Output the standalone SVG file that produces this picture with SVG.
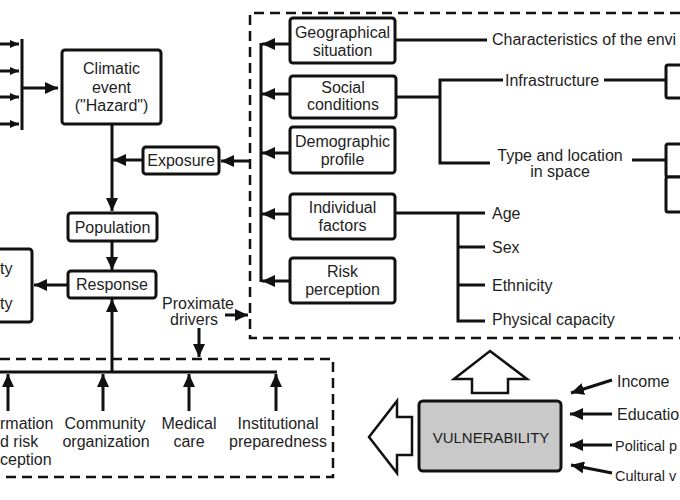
<svg xmlns="http://www.w3.org/2000/svg" width="680" height="500" viewBox="0 0 680 500">
<style>
  text { font-family: "Liberation Sans", Arial, sans-serif; font-size: 16px; fill: #1e1e1e; }
  .c { text-anchor: middle; }
  .box { fill: #ffffff; stroke: #111; stroke-width: 3; }
  .ln { fill: none; stroke: #111; stroke-width: 3; }
  .dash { fill: none; stroke: #111; stroke-width: 2.5; stroke-dasharray: 10 6; }
  .hollow { fill: #ffffff; stroke: #111; stroke-width: 2.5; stroke-linejoin: miter; }
  .edge { font-size: 14.5px; }
</style>
<defs>
  <marker id="ah" markerUnits="userSpaceOnUse" markerWidth="14" markerHeight="12" refX="13" refY="6" orient="auto">
    <path d="M0,0 L13,6 L0,12 z" fill="#111"/>
  </marker>
  <marker id="ahs" markerUnits="userSpaceOnUse" markerWidth="9" markerHeight="8" refX="9" refY="4" orient="auto">
    <path d="M0,0 L9,4 L0,8 z" fill="#111"/>
  </marker>
</defs>
<rect x="0" y="0" width="680" height="500" fill="#ffffff"/>

<g id="frames">
  <path class="dash" d="M680,13 H250 V338 H680"/>
  <path class="dash" d="M0,359 H333 V477 H0"/>
</g>

<g id="connectors">
  <line class="ln" x1="0" y1="44" x2="19" y2="44" stroke-width="2" marker-end="url(#ahs)"/>
  <line class="ln" x1="0" y1="71" x2="19" y2="71" stroke-width="2" marker-end="url(#ahs)"/>
  <line class="ln" x1="0" y1="97" x2="19" y2="97" stroke-width="2" marker-end="url(#ahs)"/>
  <line class="ln" x1="0" y1="124" x2="19" y2="124" stroke-width="2" marker-end="url(#ahs)"/>
  <line class="ln" x1="22" y1="39" x2="22" y2="130" stroke-width="3.5"/>
  <line class="ln" x1="22" y1="88" x2="58" y2="88" marker-end="url(#ah)"/>
  <line class="ln" x1="112" y1="124" x2="112" y2="211" marker-end="url(#ah)"/>
  <line class="ln" x1="143" y1="160" x2="113" y2="160" marker-end="url(#ah)"/>
  <line class="ln" x1="250" y1="161" x2="221" y2="161" marker-end="url(#ah)"/>
  <line class="ln" x1="112" y1="241" x2="112" y2="270" marker-end="url(#ah)"/>
  <line class="ln" x1="68" y1="285" x2="34" y2="285" marker-end="url(#ah)"/>
  <line class="ln" x1="112" y1="372" x2="112" y2="299" marker-end="url(#ah)"/>
  <line class="ln" x1="0" y1="372" x2="277" y2="372"/>
  <line class="ln" x1="8" y1="411" x2="8" y2="374" marker-end="url(#ah)"/>
  <line class="ln" x1="103" y1="411" x2="103" y2="374" marker-end="url(#ah)"/>
  <line class="ln" x1="189" y1="411" x2="189" y2="374" marker-end="url(#ah)"/>
  <line class="ln" x1="276" y1="411" x2="276" y2="374" marker-end="url(#ah)"/>
  <line class="ln" x1="225" y1="315" x2="248" y2="315" stroke-width="2.5" marker-end="url(#ah)"/>
  <line class="ln" x1="199" y1="328" x2="199" y2="357" stroke-width="2.5" marker-end="url(#ah)"/>
  <line class="ln" x1="261" y1="43" x2="261" y2="282"/>
  <line class="ln" x1="290" y1="44" x2="262" y2="44" marker-end="url(#ah)"/>
  <line class="ln" x1="290" y1="94" x2="262" y2="94" marker-end="url(#ah)"/>
  <line class="ln" x1="290" y1="153" x2="262" y2="153" marker-end="url(#ah)"/>
  <line class="ln" x1="290" y1="214" x2="262" y2="214" marker-end="url(#ah)"/>
  <line class="ln" x1="290" y1="281" x2="262" y2="281" marker-end="url(#ah)"/>
  <line class="ln" x1="395" y1="40" x2="487" y2="40"/>
  <path class="ln" d="M396,97 H440 M503,80 H440 V163 H490"/>
  <line class="ln" x1="604" y1="80" x2="666" y2="80"/>
  <line class="ln" x1="632" y1="160" x2="666" y2="160"/>
  <path class="ln" d="M395,213 H485 M458,213 V321 H485 M458,247 H485 M458,285 H485"/>
  <line class="ln" x1="612" y1="380" x2="571" y2="393" stroke-width="2.5" marker-end="url(#ah)"/>
  <line class="ln" x1="612" y1="414" x2="570" y2="414" stroke-width="2.5" marker-end="url(#ah)"/>
  <line class="ln" x1="612" y1="445" x2="570" y2="445" stroke-width="2.5" marker-end="url(#ah)"/>
  <line class="ln" x1="612" y1="473" x2="571" y2="465" stroke-width="2.5" marker-end="url(#ah)"/>
  <polygon class="hollow" points="490,351 527,379 508,379 508,393 472,393 472,379 454,379"/>
  <polygon class="hollow" points="369,437 397,401 397,417 412,417 412,455 397,455 397,473"/>
</g>

<g id="climatic-event">
  <rect class="box" x="62" y="50" width="99" height="74" rx="3"/>
  <text class="c" x="111.5" y="74">Climatic</text>
  <text class="c" x="111.5" y="93">event</text>
  <text class="c" x="111.5" y="111">("Hazard")</text>
</g>
<g id="exposure">
  <rect class="box" x="143" y="147" width="76" height="27" rx="3"/>
  <text class="c" x="181" y="166">Exposure</text>
</g>
<g id="population">
  <rect class="box" x="68" y="213" width="89" height="28" rx="3"/>
  <text class="c" x="112.5" y="233">Population</text>
</g>
<g id="response">
  <rect class="box" x="68" y="271" width="88" height="27" rx="3"/>
  <text class="c" x="112" y="290">Response</text>
</g>
<g id="left-box">
  <rect class="box" x="-20" y="249" width="52" height="73" rx="3"/>
  <text x="0" y="274">ty</text>
  <text x="0" y="309">ty</text>
</g>
<g id="proximate-drivers">
  <text class="c" x="198" y="309">Proximate</text>
  <text class="c" x="194" y="325">drivers</text>
</g>

<g id="geographical">
  <rect class="box" x="290" y="18" width="105" height="45" rx="3"/>
  <text class="c" x="342.5" y="38">Geographical</text>
  <text class="c" x="342.5" y="56">situation</text>
</g>
<g id="social">
  <rect class="box" x="290" y="76" width="106" height="42" rx="3"/>
  <text class="c" x="343" y="93">Social</text>
  <text class="c" x="343" y="110">conditions</text>
</g>
<g id="demographic">
  <rect class="box" x="290" y="127" width="105" height="46" rx="3"/>
  <text class="c" x="342.5" y="147">Demographic</text>
  <text class="c" x="342.5" y="165">profile</text>
</g>
<g id="individual">
  <rect class="box" x="290" y="194" width="105" height="45" rx="3"/>
  <text class="c" x="342.5" y="213">Individual</text>
  <text class="c" x="342.5" y="231">factors</text>
</g>
<g id="risk-perception">
  <rect class="box" x="290" y="258" width="105" height="45" rx="3"/>
  <text class="c" x="342.5" y="277">Risk</text>
  <text class="c" x="342.5" y="295">perception</text>
</g>

<g id="characteristics"><text x="492" y="45">Characteristics of the envi</text></g>
<g id="infrastructure"><text x="505" y="86">Infrastructure</text></g>
<g id="type-location">
  <text class="c" x="560" y="161">Type and location</text>
  <text class="c" x="560" y="177">in space</text>
</g>
<g id="right-box-1"><rect class="box" x="666" y="65" width="30" height="33" rx="2"/></g>
<g id="right-box-2"><rect class="box" x="666" y="144" width="30" height="33" rx="2"/></g>
<g id="right-box-3"><rect class="box" x="666" y="177" width="30" height="35" rx="2"/></g>

<g id="age"><text x="492" y="219">Age</text></g>
<g id="sex"><text x="492" y="253">Sex</text></g>
<g id="ethnicity"><text x="492" y="291">Ethnicity</text></g>
<g id="physical"><text x="492" y="325">Physical capacity</text></g>

<g id="information"><text x="0" y="429">rmation</text><text x="0" y="447">d risk</text><text x="0" y="465">ception</text></g>
<g id="community"><text class="c" x="105" y="429">Community</text><text class="c" x="106" y="447">organization</text></g>
<g id="medical"><text class="c" x="189" y="429">Medical</text><text class="c" x="189" y="447">care</text></g>
<g id="institutional"><text class="c" x="278" y="429">Institutional</text><text class="c" x="278" y="447">preparedness</text></g>

<g id="vulnerability">
  <rect x="419" y="401" width="142" height="70" rx="4" fill="#c9c9c9" stroke="#111" stroke-width="3"/>
  <text class="c" x="491" y="443" style="font-size:15px">VULNERABILITY</text>
</g>
<g id="income"><text x="617" y="387">Income</text></g>
<g id="education"><text x="617" y="420">Educatio</text></g>
<g id="political"><text class="edge" x="615" y="451">Political p</text></g>
<g id="cultural"><text class="edge" x="615" y="481">Cultural v</text></g>
</svg>
